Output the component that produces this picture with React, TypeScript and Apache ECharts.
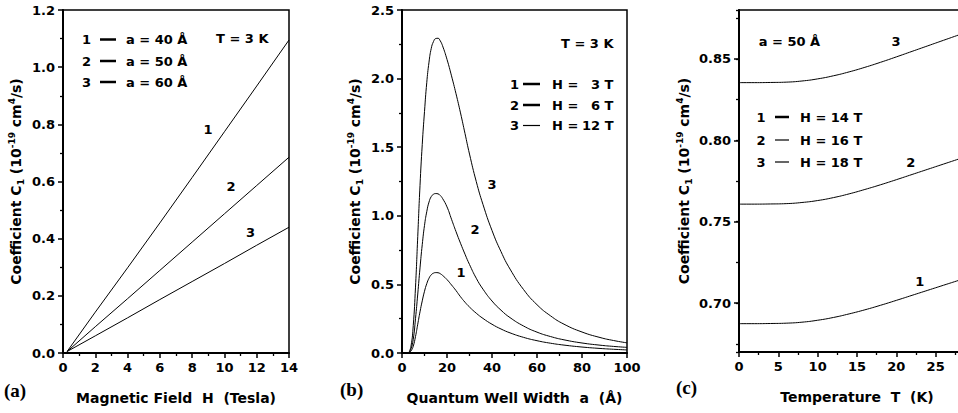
import React, { useEffect, useRef } from 'react';
import * as echarts from 'echarts';

// ---------- Panel (a): C1 vs magnetic field H (T = 3 K)
const H_TESLA = [0.25, 2, 4, 6, 8, 10, 12, 14];
const C1_A40 = [0.005, 0.143, 0.298, 0.455, 0.614, 0.774, 0.934, 1.095];
const C1_A50 = [0.005, 0.092, 0.19, 0.289, 0.388, 0.487, 0.586, 0.685];
const C1_A60 = [0.005, 0.06, 0.123, 0.187, 0.25, 0.313, 0.377, 0.44];
const LEGEND_A = ['a = 40 Å', 'a = 50 Å', 'a = 60 Å'];

// ---------- Panel (b): C1 vs quantum well width a (T = 3 K)
const A_WIDTH = [3, 4, 5, 6, 7, 8, 9, 10, 11, 12, 13, 14, 15, 16, 17, 18, 20, 22, 24, 26, 28, 30, 33, 36, 40, 44, 48, 54, 60, 66, 72, 80, 88, 94, 100];
const C1_H3 = [0, 0.015, 0.05, 0.12, 0.21, 0.3, 0.38, 0.45, 0.505, 0.545, 0.57, 0.582, 0.586, 0.585, 0.578, 0.566, 0.535, 0.496, 0.455, 0.41, 0.37, 0.335, 0.29, 0.252, 0.2095, 0.175, 0.1468, 0.1141, 0.0897, 0.0714, 0.0576, 0.0435, 0.0332, 0.0272, 0.0224];
const C1_H6 = [0, 0.03, 0.1, 0.25, 0.43, 0.62, 0.79, 0.93, 1.03, 1.1, 1.14, 1.157, 1.162, 1.16, 1.148, 1.127, 1.065, 0.975, 0.885, 0.8, 0.72, 0.645, 0.545, 0.465, 0.379, 0.312, 0.258, 0.197, 0.152, 0.12, 0.096, 0.073, 0.057, 0.048, 0.041];
const C1_H12 = [0, 0.05, 0.2, 0.48, 0.85, 1.22, 1.52, 1.76, 1.97, 2.12, 2.22, 2.27, 2.292, 2.294, 2.275, 2.24, 2.14, 2.02, 1.89, 1.75, 1.6, 1.45, 1.25, 1.082, 0.893, 0.739, 0.612, 0.463, 0.352, 0.271, 0.21, 0.153, 0.113, 0.091, 0.074];
const LEGEND_B_VALUES = ['3 T', '6 T', '12 T'];

// ---------- Panel (c): C1 vs temperature T (a = 50 Å)
const T_KELVIN = [0, 2, 4, 6, 8, 10, 12, 14, 16, 18, 20, 22, 24, 26, 28, 30];
const C1_H14 = [0.6874, 0.6874, 0.6875, 0.6877, 0.6883, 0.6895, 0.6912, 0.6934, 0.6959, 0.6987, 0.7017, 0.7048, 0.7079, 0.711, 0.7141, 0.7172];
const C1_H16 = [0.7608, 0.7608, 0.7609, 0.7611, 0.7618, 0.763, 0.7648, 0.7671, 0.7698, 0.7727, 0.7758, 0.779, 0.7822, 0.7854, 0.7886, 0.7918];
const C1_H18 = [0.8354, 0.8354, 0.8355, 0.8357, 0.8364, 0.8377, 0.8396, 0.842, 0.8448, 0.8479, 0.8512, 0.8546, 0.858, 0.8614, 0.8648, 0.8682];
const LEGEND_C = ['H = 14 T', 'H = 16 T', 'H = 18 T'];

const CURVE_NUMBERS = ['1', '2', '3'];

const FONT = 'DejaVu Sans';
const Y_NAME = 'Coefficient C{sub|1} (10{sup|-19} cm{sup|4}/s)';

const zip = (xs: number[], ys: number[]) => xs.map((x, i) => [x, ys[i]]);

const nameStyle = {
  fontFamily: FONT,
  fontWeight: 'bold',
  fontSize: 14,
  color: '#000',
  lineHeight: 18,
  rich: {
    sub: { fontFamily: FONT, fontWeight: 'bold', fontSize: 9, lineHeight: 10, verticalAlign: 'bottom', color: '#000' },
    sup: { fontFamily: FONT, fontWeight: 'bold', fontSize: 9, lineHeight: 10, verticalAlign: 'top', color: '#000' },
  },
};

function axis(gridIndex: number, extra: any) {
  return {
    type: 'value',
    gridIndex,
    nameLocation: 'middle',
    nameTextStyle: nameStyle,
    axisLine: { show: true, onZero: false, lineStyle: { color: '#000', width: 2 } },
    axisTick: { show: true, inside: false, length: 5, lineStyle: { color: '#000', width: 1.5 } },
    minorTick: { show: true, splitNumber: 2, length: 3, lineStyle: { color: '#000', width: 1.3 } },
    splitLine: { show: false },
    minorSplitLine: { show: false },
    axisLabel: { color: '#000', fontFamily: FONT, fontWeight: 'bold', fontSize: 13, margin: 8 },
    ...extra,
  };
}

function txt(x: number, y: number, text: string, align = 'center', font = `bold 13px "${FONT}"`) {
  return { type: 'text', x, y, silent: true, style: { text, font, fill: '#000', align, verticalAlign: 'middle' } };
}
function dash(x1: number, x2: number, y: number, w: number) {
  return { type: 'line', silent: true, shape: { x1, y1: y, x2, y2: y }, style: { stroke: '#000', lineWidth: w } };
}

function buildGraphic() {
  const g: any[] = [];
  // panel a
  const rowsA = [39.5, 61, 82];
  rowsA.forEach((y, i) => {
    g.push(txt(86.5, y, CURVE_NUMBERS[i]));
    g.push(dash(100, 116, y, 2.5));
    g.push(txt(126, y, LEGEND_A[i], 'left'));
  });
  g.push(txt(216, 38, 'T = 3 K', 'left'));
  g.push(txt(208, 129, '1'), txt(231, 186, '2'), txt(250.5, 232.5, '3'));
  g.push(txt(4, 390, '(a)', 'left', 'bold 19px "Liberation Serif"'));
  // panel b
  const rowsB = [84, 105, 125.5];
  const wB = [2.5, 2.5, 1.2];
  rowsB.forEach((y, i) => {
    g.push(txt(514.5, y, CURVE_NUMBERS[i]));
    g.push(dash(523, 540, y, wB[i]));
    g.push(txt(552, y, 'H =', 'left'));
    g.push(txt(613.5, y, LEGEND_B_VALUES[i], 'right'));
  });
  g.push(txt(613.5, 43, 'T = 3 K', 'right'));
  g.push(txt(461, 272.5, '1'), txt(475, 229, '2'), txt(492, 184, '3'));
  g.push(txt(340, 389, '(b)', 'left', 'bold 19px "Liberation Serif"'));
  // panel c
  const rowsC = [117, 140, 162];
  const wC = [2.5, 1.2, 1.2];
  rowsC.forEach((y, i) => {
    g.push(txt(761, y, CURVE_NUMBERS[i]));
    g.push(dash(775, 789, y, wC[i]));
    g.push(txt(800, y, LEGEND_C[i], 'left'));
  });
  g.push(txt(758.7, 41, 'a = 50 Å', 'left'));
  g.push(txt(919.7, 281, '1'), txt(910.7, 162, '2'), txt(896, 41.7, '3'));
  g.push(txt(676, 387, '(c)', 'left', 'bold 19px "Liberation Serif"'));
  return g;
}

function lineSeries(name: string, xi: number, data: number[][], smooth: boolean) {
  return {
    type: 'line',
    name,
    xAxisIndex: xi,
    yAxisIndex: xi,
    data,
    smooth: smooth ? 0.5 : false,
    showSymbol: false,
    symbol: 'none',
    lineStyle: { color: '#000', width: 1 },
    silent: true,
  };
}

export default function App() {
  const ref = useRef<HTMLDivElement>(null);
  useEffect(() => {
    if (!ref.current) return;
    const chart = echarts.init(ref.current, null, { renderer: 'svg' });
    const gridBase = { show: true, borderColor: '#000', borderWidth: 1.5, backgroundColor: 'transparent', containLabel: false, outerBoundsMode: 'none' };
    const fmt1 = (v: number) => v.toFixed(1);
    const option: any = {
      animation: false,
      backgroundColor: '#fff',
      textStyle: { fontFamily: FONT, fontWeight: 'bold', color: '#000' },
      grid: [
        { ...gridBase, left: 63, top: 10, width: 226, height: 343 },
        { ...gridBase, left: 402, top: 10, width: 225, height: 343 },
        { ...gridBase, left: 739, top: 10, width: 236, height: 342 },
      ],
      xAxis: [
        axis(0, { min: 0, max: 14, interval: 2, name: 'Magnetic Field  H  (Tesla)', nameGap: 36 }),
        axis(1, { min: 0, max: 100, interval: 20, name: 'Quantum Well Width  a  (Å)', nameGap: 36 }),
        axis(2, {
          min: 0, max: 30, interval: 5, name: 'Temperature  T  (K)', nameGap: 36,
          axisLabel: { color: '#000', fontFamily: FONT, fontWeight: 'bold', fontSize: 13, margin: 8, showMaxLabel: false, formatter: (v: number) => (v >= 30 ? '' : String(v)) },
        }),
      ],
      yAxis: [
        axis(0, { min: 0, max: 1.2, interval: 0.2, name: Y_NAME, nameGap: 38, axisLabel: { color: '#000', fontFamily: FONT, fontWeight: 'bold', fontSize: 13, margin: 8, formatter: fmt1 } }),
        axis(1, { min: 0, max: 2.5, interval: 0.5, name: Y_NAME, nameGap: 38, axisLabel: { color: '#000', fontFamily: FONT, fontWeight: 'bold', fontSize: 13, margin: 8, formatter: fmt1 } }),
        axis(2, {
          min: 0.67, max: 0.88, splitNumber: 4, name: Y_NAME, nameGap: 46,
          minorTick: { show: false },
          axisLabel: { color: '#000', fontFamily: FONT, fontWeight: 'bold', fontSize: 13, margin: 8, showMinLabel: false, showMaxLabel: false, formatter: (v: number) => v.toFixed(2) },
        }),
        // tick-only helper axis for the 0.025 minor ticks of panel (c)
        {
          type: 'value', gridIndex: 2, position: 'left', min: -0.2, max: 8.2, splitNumber: 8,
          axisLine: { show: false }, axisLabel: { show: false }, splitLine: { show: false },
          axisTick: { show: true, length: 3, lineStyle: { color: '#000', width: 1.3 } },
        },
      ],
      series: [
        lineSeries('a = 40 Å', 0, zip(H_TESLA, C1_A40), false),
        lineSeries('a = 50 Å', 0, zip(H_TESLA, C1_A50), false),
        lineSeries('a = 60 Å', 0, zip(H_TESLA, C1_A60), false),
        lineSeries('H = 3 T', 1, zip(A_WIDTH, C1_H3), true),
        lineSeries('H = 6 T', 1, zip(A_WIDTH, C1_H6), true),
        lineSeries('H = 12 T', 1, zip(A_WIDTH, C1_H12), true),
        lineSeries('H = 14 T', 2, zip(T_KELVIN, C1_H14), true),
        lineSeries('H = 16 T', 2, zip(T_KELVIN, C1_H16), true),
        lineSeries('H = 18 T', 2, zip(T_KELVIN, C1_H18), true),
      ],
      graphic: buildGraphic(),
    };
    chart.setOption(option);
    return () => chart.dispose();
  }, []);
  return (
    <div style={{ position: 'fixed', left: 0, top: 0, width: 958, height: 413, overflow: 'hidden', background: '#fff' }}>
      <div ref={ref} style={{ width: 990, height: 413 }} />
    </div>
  );
}
